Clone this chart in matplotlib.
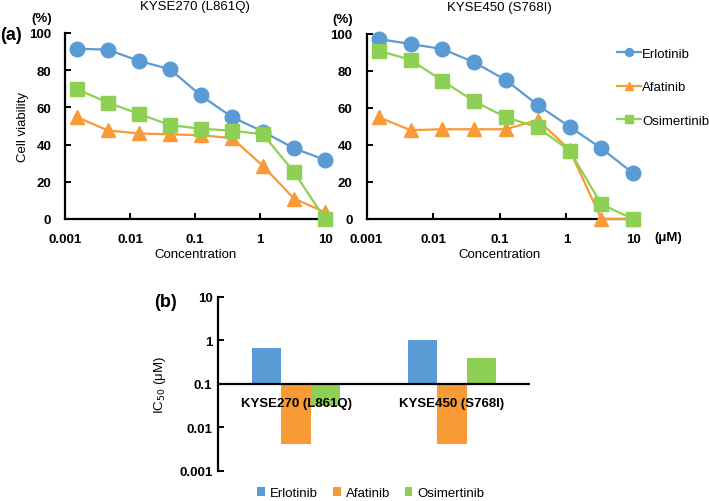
import matplotlib
matplotlib.use("Agg")
import matplotlib.pyplot as plt
import numpy as np

plt.rcParams['font.family'] = ['Liberation Sans', 'DejaVu Sans']

# concentrations (uM)
conc = [0.00152, 0.00457, 0.0137, 0.0412, 0.123, 0.370, 1.11, 3.33, 10.0]

# KYSE270 (L861Q)
erl_270 = [91.6, 91.0, 85.0, 80.5, 66.4, 54.8, 47.0, 38.0, 31.8]
afa_270 = [54.8, 47.6, 46.0, 45.5, 45.0, 43.5, 28.5, 11.0, 3.6]
osi_270 = [69.8, 62.6, 56.5, 50.5, 48.5, 47.5, 45.5, 25.3, 0.0]

# KYSE450 (S768I)
erl_450 = [97.3, 94.6, 91.9, 84.7, 75.1, 61.6, 49.9, 38.2, 24.7]
afa_450 = [55.0, 48.0, 48.5, 48.5, 48.5, 53.5, 37.5, 0.0, 0.0]
osi_450 = [91.0, 86.0, 74.8, 63.6, 55.0, 49.5, 37.0, 8.0, 0.0]

drugs = ['Erlotinib', 'Afatinib', 'Osimertinib']
colors = ['#5B9BD5', '#F89A35', '#8ED053']
markers = ['o', '^', 's']

# IC50 (uM)
cell_lines = ['KYSE270 (L861Q)', 'KYSE450 (S768I)']
ic50 = {
    'Erlotinib': [0.66, 1.05],
    'Afatinib': [0.0041, 0.0041],
    'Osimertinib': [0.031, 0.40],
}

fig = plt.figure(figsize=(7.09, 5.02), dpi=100)

ax1 = fig.add_axes([0.0917, 0.5618, 0.3667, 0.3705])
ax2 = fig.add_axes([0.517, 0.5618, 0.376, 0.3685])

def curve_panel(ax, data, title):
    for (vals, c, m, name) in zip(data, colors, markers, drugs):
        ax.plot(conc, vals, color=c, marker=m, markersize=10.5, lw=1.6,
                label=name, clip_on=False, zorder=3)
    ax.set_xscale('log')
    ax.set_xlim(0.001, 10)
    ax.set_ylim(0, 100)
    ax.set_xticks([0.001, 0.01, 0.1, 1, 10])
    ax.set_xticklabels(['0.001', '0.01', '0.1', '1', '10'])
    ax.minorticks_off()
    ax.set_yticks([0, 20, 40, 60, 80, 100])
    for s in ['top', 'right']:
        ax.spines[s].set_visible(False)
    for s in ['left', 'bottom']:
        ax.spines[s].set_linewidth(1.6)
    ax.tick_params(direction='in', length=4, width=1.4, labelsize=9.5)
    ax.tick_params(axis='x', pad=10)
    ax.tick_params(axis='y', pad=10)
    for lb in ax.get_xticklabels() + ax.get_yticklabels():
        lb.set_fontweight('bold')
    ax.set_xlabel('Concentration', fontsize=9.5, labelpad=2)
    ax.set_title(title, fontsize=9.5, pad=17)
    ax.text(-0.09, 1.05, '(%)', transform=ax.transAxes, ha='center',
            va='bottom', fontsize=9.5, fontweight='bold')

curve_panel(ax1, [erl_270, afa_270, osi_270], cell_lines[0])
curve_panel(ax2, [erl_450, afa_450, osi_450], cell_lines[1])
ax1.set_ylabel('Cell viability', fontsize=9.5, labelpad=0)
ax2.text(1.08, -0.1, '(\u03bcM)', transform=ax2.transAxes, ha='left',
         va='center', fontsize=9.5, fontweight='bold')
ax2.legend(loc='upper left', bbox_to_anchor=(0.92, 0.955), frameon=False,
           fontsize=9.5, markerscale=0.55, handlelength=1.8,
           handletextpad=0.1, labelspacing=1.6, borderaxespad=0)

fig.text(0.0, 0.93, '(a)', fontsize=13, fontweight='bold', va='center')

# bar panel
ax3 = fig.add_axes([0.3075, 0.0598, 0.44, 0.3466])
x = np.arange(len(cell_lines))
w = 0.19
base = 0.1
for i, (name, c) in enumerate(zip(drugs, colors)):
    vals = np.array(ic50[name])
    ax3.bar(x + (i - 1) * w, vals - base, w, bottom=base, color=c,
            label=name, zorder=2)
ax3.set_yscale('log')
ax3.set_ylim(0.001, 10)
ax3.set_xlim(-0.5, 1.5)
ax3.set_yticks([0.001, 0.01, 0.1, 1, 10])
ax3.set_yticklabels(['0.001', '0.01', '0.1', '1', '10'])
ax3.minorticks_off()
ax3.set_xticks([])
for s in ['top', 'right', 'bottom']:
    ax3.spines[s].set_visible(False)
ax3.spines['left'].set_linewidth(1.6)
ax3.axhline(base, color='black', lw=1.6, zorder=3)
ax3.tick_params(direction='in', length=4, width=1.4, labelsize=9.5, pad=4)
for lb in ax3.get_yticklabels():
    lb.set_fontweight('bold')
for xi, name in zip(x, cell_lines):
    ax3.text(xi, 0.036, name, ha='center', va='center', fontsize=9.5,
             fontweight='bold', zorder=4)
ax3.set_ylabel('IC$_{50}$ (\u03bcM)', fontsize=9.5, labelpad=8)
ax3.legend(loc='upper center', bbox_to_anchor=(0.49, -0.025), ncol=3,
           frameon=False, fontsize=9.5, handlelength=0.6, handleheight=0.6,
           handletextpad=0.4, columnspacing=1.1)

fig.text(0.217, 0.398, '(b)', fontsize=13, fontweight='bold', va='center')

fig.savefig('out.png', dpi=100)
